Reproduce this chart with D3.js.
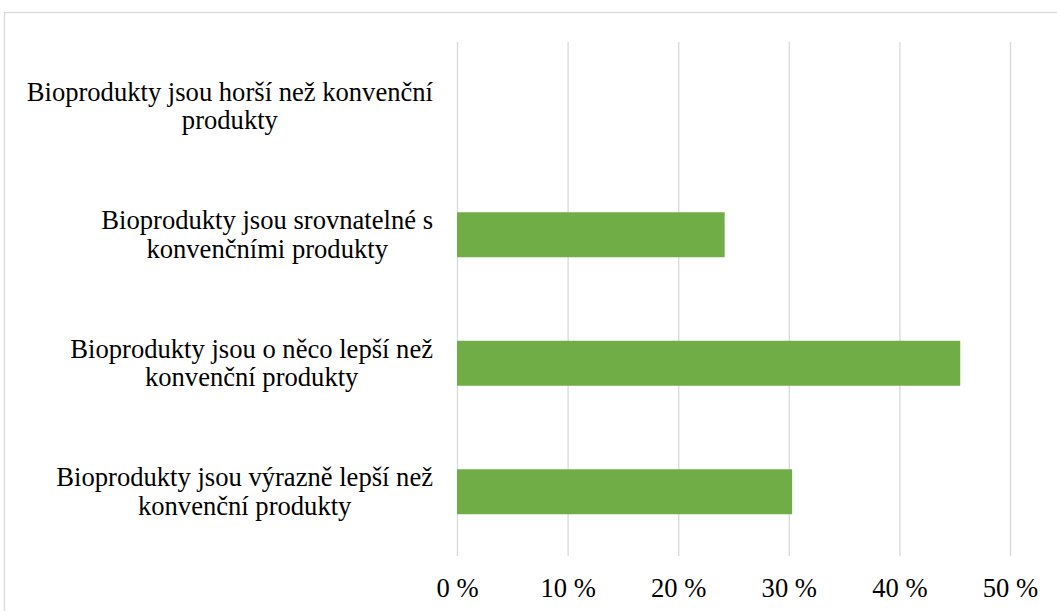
<!DOCTYPE html>
<html>
<head>
<meta charset="utf-8">
<script src="https://cdn.jsdelivr.net/npm/d3@7"></script>
<style>
  html, body { margin: 0; padding: 0; background: #fff; }
  svg { display: block; }
  svg text { font-family: "Liberation Serif", "DejaVu Serif", serif; fill: #000; }
</style>
</head>
<body>
<svg id="chart" width="1057" height="611"></svg>
<script>
// Survey answers, top to bottom
const categories = [
  ["Bioprodukty jsou horší než konvenční", "produkty"],
  ["Bioprodukty jsou srovnatelné s", "konvenčními produkty"],
  ["Bioprodukty jsou o něco lepší než", "konvenční produkty"],
  ["Bioprodukty jsou výrazně lepší než", "konvenční produkty"]
];
const shares = [0, 24.2, 45.5, 30.3];
const tickValues = [0, 10, 20, 30, 40, 50];

const FONT = '"Liberation Serif", "DejaVu Serif", serif';
const svg = d3.select("#chart").attr("font-family", FONT);
const W = 1057, H = 611;

// Chart frame
svg.append("rect")
  .attr("x", 4.5).attr("y", 12.5)
  .attr("width", W + 10).attr("height", H + 10)
  .attr("fill", "#fff")
  .attr("stroke", "#d9d9d9").attr("stroke-width", 1.3);

const plot = { left: 457, right: 1010, top: 42, bottom: 556 };

const x = d3.scaleLinear().domain([0, 50]).range([plot.left, plot.right]);
const y = d3.scaleBand()
  .domain(categories.map((c, i) => i))
  .range([plot.top, plot.bottom])
  .paddingInner(0.65)
  .paddingOuter(0.325);

// Vertical gridlines
const grid = svg.append("g")
  .attr("transform", `translate(0,${plot.bottom})`)
  .call(d3.axisBottom(x).tickValues(tickValues)
    .tickSize(-(plot.bottom - plot.top)).tickFormat(""));
grid.select(".domain").remove();
grid.selectAll(".tick line").attr("stroke", "#d9d9d9").attr("stroke-width", 1.3);

// Bars
svg.append("g").selectAll("rect")
  .data(shares)
  .join("rect")
  .attr("x", x(0))
  .attr("y", (d, i) => y(i))
  .attr("width", d => x(d) - x(0))
  .attr("height", y.bandwidth())
  .attr("fill", "#70ad47");

// Bottom axis labels
const xAxis = svg.append("g")
  .attr("transform", `translate(0,${plot.bottom})`)
  .call(d3.axisBottom(x).tickValues(tickValues).tickSize(0).tickPadding(0)
    .tickFormat(d => d + " %"));
xAxis.attr("font-family", FONT).attr("font-size", 26.6);
xAxis.select(".domain").remove();
xAxis.selectAll("text")
  .attr("dy", null)
  .attr("y", 41)
  .attr("fill", "#000");

// Category labels: lines centred within a block whose right edge sits left of the axis
const labelRight = 433;
const lineGap = 28.5;
const labels = svg.append("g")
  .attr("font-family", FONT)
  .attr("font-size", 26.6)
  .selectAll("g")
  .data(categories)
  .join("g");
labels.each(function (lines, i) {
  const g = d3.select(this);
  const c = y(i) + y.bandwidth() / 2;
  const texts = g.selectAll("text")
    .data(lines)
    .join("text")
    .attr("text-anchor", "middle")
    .attr("y", (d, j) => c - 5.5 + j * lineGap)
    .text(d => d);
  let maxW = 0;
  texts.each(function () { maxW = Math.max(maxW, this.getComputedTextLength()); });
  texts.attr("x", labelRight - maxW / 2);
});
</script>
</body>
</html>
